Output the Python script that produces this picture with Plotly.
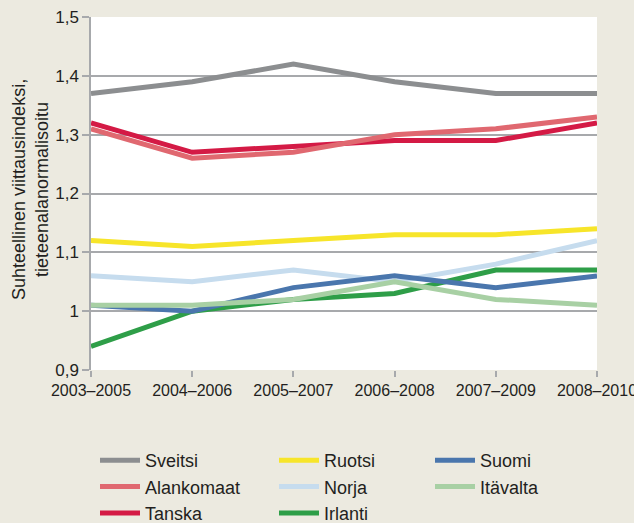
import plotly.graph_objects as go

periods = ["2003–2005", "2004–2006", "2005–2007", "2006–2008", "2007–2009", "2008–2010"]

sveitsi = [1.37, 1.39, 1.42, 1.39, 1.37, 1.37]
alankomaat = [1.31, 1.26, 1.27, 1.30, 1.31, 1.33]
tanska = [1.32, 1.27, 1.28, 1.29, 1.29, 1.32]
ruotsi = [1.12, 1.11, 1.12, 1.13, 1.13, 1.14]
norja = [1.06, 1.05, 1.07, 1.05, 1.08, 1.12]
irlanti = [0.94, 1.00, 1.02, 1.03, 1.07, 1.07]
suomi = [1.01, 1.00, 1.04, 1.06, 1.04, 1.06]
itavalta = [1.01, 1.01, 1.02, 1.05, 1.02, 1.01]

# (name, values, color, legend id)
series = [
    ("Norja", norja, "#C6DCEE", "legend2"),
    ("Irlanti", irlanti, "#2E9E48", "legend2"),
    ("Suomi", suomi, "#4A76AD", "legend3"),
    ("Itävalta", itavalta, "#A8D0A4", "legend3"),
    ("Ruotsi", ruotsi, "#F7E52A", "legend2"),
    ("Tanska", tanska, "#D41A45", "legend"),
    ("Alankomaat", alankomaat, "#E06870", "legend"),
    ("Sveitsi", sveitsi, "#8C8E90", "legend"),
]
rank = {"Sveitsi": 1, "Alankomaat": 2, "Tanska": 3, "Ruotsi": 1, "Norja": 2,
        "Irlanti": 3, "Suomi": 1, "Itävalta": 2}

BG = "#ECEAE0"
FONT = "Liberation Sans, Arial, sans-serif"

fig = go.Figure()
for name, vals, color, lg in series:
    fig.add_trace(go.Scatter(
        x=periods, y=vals, mode="lines", name=name,
        line=dict(color=color, width=5),
        legend=lg, legendrank=rank[name], legendgroup=name,
    ))

leg_common = dict(orientation="v", bgcolor="rgba(0,0,0,0)", borderwidth=0,
                  font=dict(family=FONT, size=18, color="#231F20"),
                  yanchor="top", xanchor="left", y=(370 - 442) / 353,
                  tracegroupgap=0, itemwidth=40)

fig.update_layout(
    width=634, height=523,
    margin=dict(l=91, r=37, t=17, b=153, autoexpand=False),
    paper_bgcolor=BG, plot_bgcolor="white",
    separators=", ",
    showlegend=True,
    legend=dict(x=(95 - 91) / 506, **leg_common),
    legend2=dict(x=(274 - 91) / 506, **leg_common),
    legend3=dict(x=(430 - 91) / 506, **leg_common),
    font=dict(family=FONT, color="#231F20"),
)

fig.update_xaxes(
    type="category", range=[0, 5], showgrid=False, automargin=False,
    showline=False, ticks="outside", ticklen=6, tickcolor="#A7A9AC", tickwidth=1.5,
    tickfont=dict(family="Liberation Sans Narrow, " + FONT, size=16, color="#231F20"),
    zeroline=False,
)
fig.update_yaxes(
    range=[0.9, 1.5], dtick=0.1, tick0=0.9, automargin=False,
    showgrid=True, gridcolor="#A7A9AC", gridwidth=1.5,
    showline=True, linecolor="#A7A9AC", linewidth=1.5,
    ticks="outside", ticklen=7, tickcolor="#A7A9AC", tickwidth=1.5,
    tickfont=dict(family="Liberation Sans Narrow, " + FONT, size=17, color="#231F20"),
    zeroline=False,
)

fig.add_annotation(
    text="Suhteellinen viittausindeksi,<br>tieteenalanormalisoitu",
    xref="paper", yref="paper", x=(30 - 91) / 506, y=(370 - 190) / 353, textangle=-90,
    showarrow=False, font=dict(family=FONT, size=18, color="#231F20"),
    xanchor="center", yanchor="middle",
)

fig.write_html(
    "out.html",
    config={"displayModeBar": False},
    post_script="document.body.style.margin='0px';document.body.style.background='#ECEAE0';",
)
